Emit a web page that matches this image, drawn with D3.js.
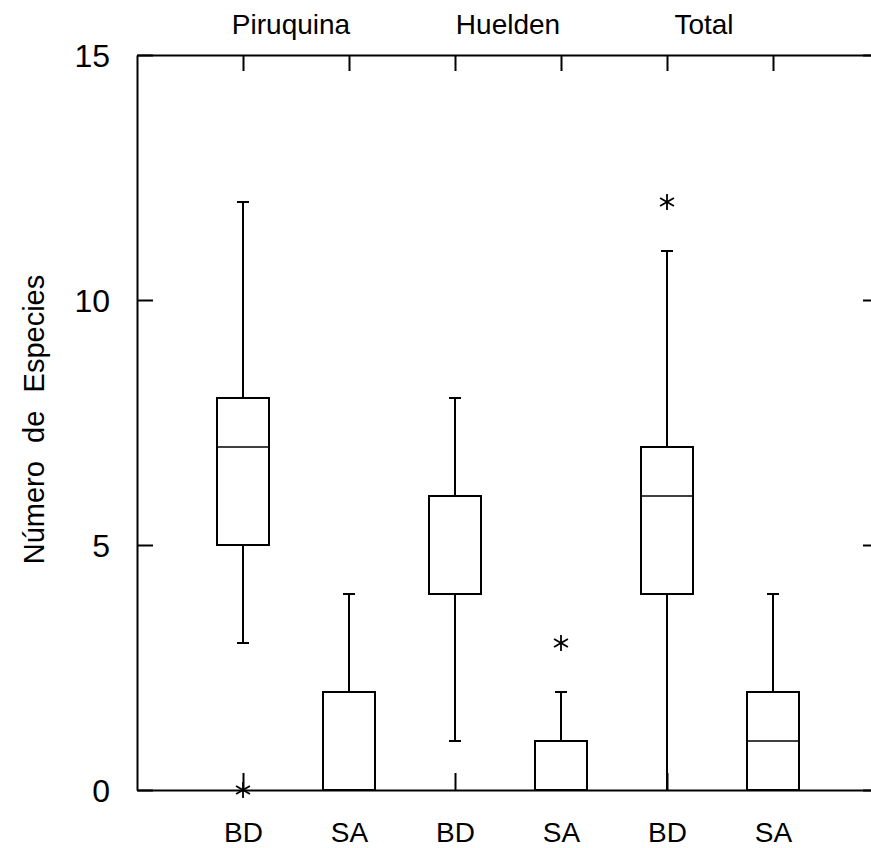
<!DOCTYPE html>
<html>
<head>
<meta charset="utf-8">
<script src="https://cdn.jsdelivr.net/npm/d3@7"></script>
<style>
  html, body { margin: 0; padding: 0; background: #fff; }
  svg { display: block; }
  text { font-family: "Liberation Sans", Arial, Helvetica, sans-serif; fill: #000; }
</style>
</head>
<body>
<svg id="chart" width="871" height="848"></svg>
<script>
// ---- data ----
const categories = ["BD", "SA", "BD", "SA", "BD", "SA"];
const groups = ["Piruquina", "Huelden", "Total"];
const whiskerLow = [3, 0, 1, 0, 0, 0];
const q1 = [5, 0, 4, 0, 4, 0];
const median = [7, 0, 4, 0, 6, 1];
const q3 = [8, 2, 6, 1, 7, 2];
const whiskerHigh = [12, 4, 8, 2, 11, 4];
const outliers = [[0], [], [], [3], [12], []];
const yTicks = [0, 5, 10, 15];
const yLabel = "Número de Especies";

(function () {
// ---- layout ----
const svg = d3.select("#chart");
const mLeft = 137, mRight = 879, mTop = 55, mBottom = 790;
const ids = categories.map((c, i) => i);
const x = d3.scalePoint().domain(ids).range([mLeft, mRight]).padding(1);
const y = d3.scaleLinear().domain([0, 15]).range([mBottom, mTop]);
const tick = 16;
const boxHalf = 26, capHalf = 6;
const groupLabelShift = [-5, 0, -16];

function styleAxis(g) {
  g.selectAll("path.domain").attr("stroke", "#000").attr("stroke-width", 2);
  g.selectAll(".tick line").attr("stroke", "#000").attr("stroke-width", 2);
}

// left axis
const gl = svg.append("g").attr("transform", `translate(${mLeft},0)`)
  .call(d3.axisLeft(y).tickValues(yTicks).tickSizeInner(-tick).tickSizeOuter(0).tickPadding(27));
styleAxis(gl);
gl.selectAll("text").attr("font-size", 32).attr("font-family", "Roboto, 'Liberation Sans', Arial, sans-serif")
  .attr("font-weight", 300).attr("dy", "0.36em");

// right axis
const gr = svg.append("g").attr("transform", `translate(${mRight},0)`)
  .call(d3.axisRight(y).tickValues(yTicks).tickSizeInner(-tick).tickSizeOuter(0).tickFormat(""));
styleAxis(gr);

// bottom axis
const gb = svg.append("g").attr("transform", `translate(0,${mBottom})`)
  .call(d3.axisBottom(x).tickSizeInner(-17).tickSizeOuter(0).tickPadding(32).tickFormat(i => categories[i]));
styleAxis(gb);
gb.selectAll("text").attr("font-size", 28);

// top axis
const gt = svg.append("g").attr("transform", `translate(0,${mTop})`)
  .call(d3.axisTop(x).tickSizeInner(-16).tickSizeOuter(0).tickFormat(""));
styleAxis(gt);

// group labels
svg.append("g").selectAll("text").data(groups).join("text")
  .attr("x", (d, i) => (x(2 * i) + x(2 * i + 1)) / 2 + groupLabelShift[i])
  .attr("y", 34)
  .attr("text-anchor", "middle")
  .attr("font-size", 28)
  .text(d => d);

// y label
svg.append("text")
  .attr("transform", `translate(44,${(mTop + mBottom) / 2 - 3}) rotate(-90)`)
  .attr("text-anchor", "middle")
  .attr("font-size", 29)
  .style("word-spacing", "0.35em")
  .text(yLabel);

// boxes
const g = svg.append("g").attr("stroke", "#000").attr("fill", "none").attr("stroke-width", 2);
ids.forEach(i => {
  const cx = x(i);
  g.append("line").attr("x1", cx).attr("x2", cx).attr("y1", y(q3[i])).attr("y2", y(whiskerHigh[i]));
  g.append("line").attr("x1", cx).attr("x2", cx).attr("y1", y(q1[i])).attr("y2", y(whiskerLow[i]));
  if (whiskerHigh[i] > q3[i])
    g.append("line").attr("x1", cx - capHalf).attr("x2", cx + capHalf).attr("y1", y(whiskerHigh[i])).attr("y2", y(whiskerHigh[i]));
  if (whiskerLow[i] < q1[i] && whiskerLow[i] > 0)
    g.append("line").attr("x1", cx - capHalf).attr("x2", cx + capHalf).attr("y1", y(whiskerLow[i])).attr("y2", y(whiskerLow[i]));
  g.append("rect").attr("x", cx - boxHalf).attr("width", 2 * boxHalf)
    .attr("y", y(q3[i])).attr("height", y(q1[i]) - y(q3[i])).attr("fill", "#fff");
  g.append("line").attr("x1", cx - boxHalf).attr("x2", cx + boxHalf)
    .attr("y1", y(median[i])).attr("y2", y(median[i])).attr("stroke-width", 1.6);
  outliers[i].forEach(v => {
    const oy = y(v), r = 8;
    const a = g.append("g").attr("transform", `translate(${cx},${oy})`).attr("stroke-width", 1.8);
    a.append("line").attr("x1", 0).attr("x2", 0).attr("y1", -r).attr("y2", r);
    [30, -30].forEach(ang => {
      const rad = ang * Math.PI / 180;
      a.append("line").attr("x1", -r * Math.cos(rad)).attr("y1", -r * Math.sin(rad))
        .attr("x2", r * Math.cos(rad)).attr("y2", r * Math.sin(rad));
    });
  });
});
})();
</script>
</body>
</html>
